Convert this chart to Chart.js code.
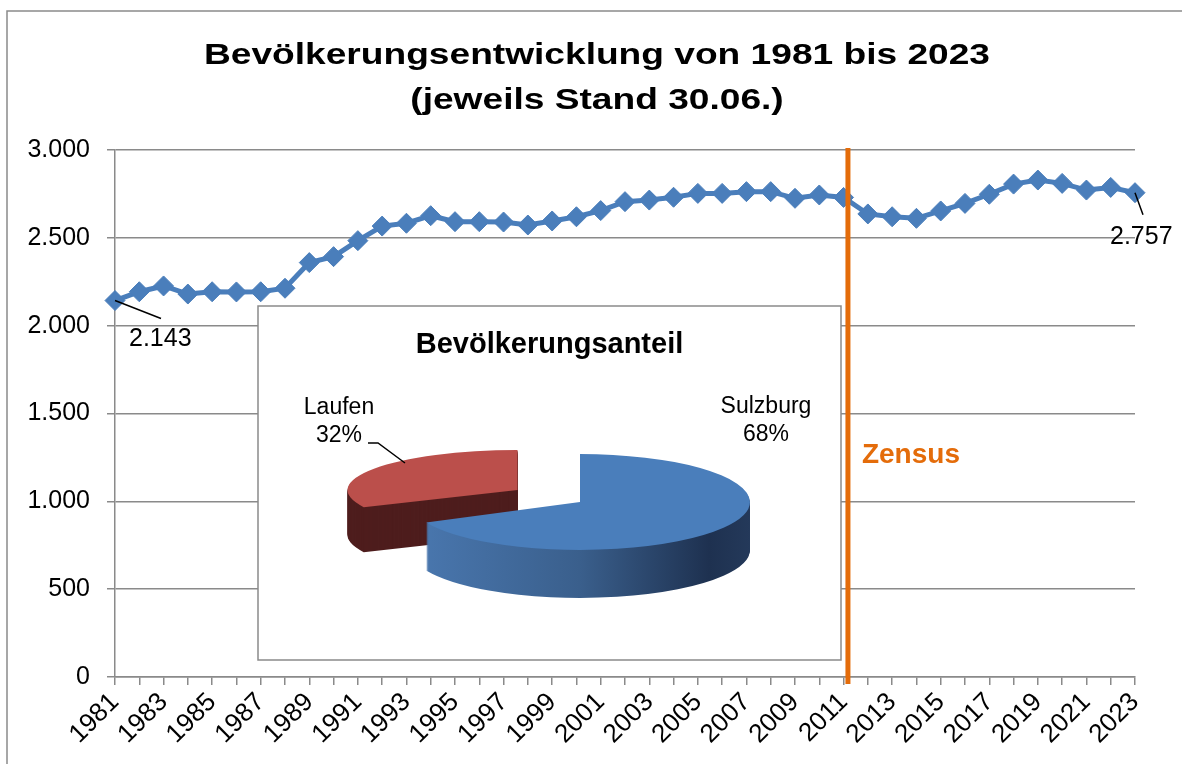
<!DOCTYPE html>
<html><head><meta charset="utf-8">
<script src="https://cdn.jsdelivr.net/npm/chart.js@4.4.1/dist/chart.umd.min.js"></script>
<style>
html,body{margin:0;padding:0;background:#fff;}
#wrap{position:relative;width:1182px;height:764px;overflow:hidden;}
#main{position:absolute;left:0;top:0;}
#pie{position:absolute;left:258px;top:306px;}
</style></head><body>
<div id="wrap"><canvas id="main" width="1182" height="764"></canvas><canvas id="pie" width="583" height="354"></canvas></div>
<script>
// ---- data ----
const years = [1981,1982,1983,1984,1985,1986,1987,1988,1989,1990,1991,1992,1993,1994,1995,1996,1997,1998,1999,2000,2001,2002,2003,2004,2005,2006,2007,2008,2009,2010,2011,2012,2013,2014,2015,2016,2017,2018,2019,2020,2021,2022,2023];
const population = [2143,2193,2226,2180,2193,2192,2193,2213,2359,2393,2484,2567,2583,2626,2592,2592,2590,2573,2596,2620,2655,2706,2715,2731,2753,2753,2763,2763,2725,2744,2730,2636,2620,2611,2653,2696,2748,2806,2829,2810,2772,2787,2757];
const yTickValues = [0,500,1000,1500,2000,2500,3000];
const shareLabels = ['Sulzburg','Laufen'];
const shareValues = [68,32];
const zensusYear = 2011.18;
const titleLines = ['Bevölkerungsentwicklung von 1981 bis 2023','(jeweils Stand 30.06.)'];
const pieTitle = 'Bevölkerungsanteil';
const zensusText = 'Zensus';

// ---- helpers ----
const FONT = 'Liberation Sans';
const fmt = v => String(Math.round(v)).replace(/\B(?=(\d{3})+(?!\d))/g, '.');
Chart.defaults.font.family = FONT;
Chart.defaults.color = '#000';

const framePlugin = {
  id: 'frame',
  beforeDraw(chart) {
    const ctx = chart.ctx;
    ctx.save();
    ctx.strokeStyle = '#8a8a8a';
    ctx.lineWidth = 1.5;
    ctx.strokeRect(7, 11, 1400, 1000);
    // title (stretched like the original)
    ctx.fillStyle = '#000';
    ctx.font = 'bold 29px "' + FONT + '"';
    ctx.textAlign = 'center';
    ctx.textBaseline = 'alphabetic';
    ctx.translate(597, 0);
    ctx.scale(1.28, 1);
    ctx.fillText(titleLines[0], 0, 64);
    ctx.fillText(titleLines[1], 0, 109);
    ctx.restore();
  },
  beforeDatasetsDraw(chart) {
    const ctx = chart.ctx;
    ctx.save();
    ctx.fillStyle = '#fff';
    ctx.fillRect(258, 306, 583, 354);
    ctx.strokeStyle = '#8a8a8a';
    ctx.lineWidth = 1.5;
    ctx.strokeRect(258, 306, 583, 354);
    ctx.restore();
  },
  afterDatasetsDraw(chart) {
    const ctx = chart.ctx;
    const xs = chart.scales.x, a = chart.chartArea;
    // Zensus line
    const zx = xs.getPixelForValue(zensusYear - years[0]);
    ctx.save();
    ctx.strokeStyle = '#E46C0A';
    ctx.lineWidth = 5;
    ctx.beginPath();
    ctx.moveTo(zx, a.top - 2);
    ctx.lineTo(zx, a.bottom + 7);
    ctx.stroke();
    ctx.fillStyle = '#E46C0A';
    ctx.font = 'bold 28px "' + FONT + '"';
    ctx.textAlign = 'left';
    ctx.textBaseline = 'middle';
    ctx.fillText(zensusText, zx + 14, 455);
    // data labels
    const pts = chart.getDatasetMeta(0).data;
    const p0 = pts[0], pn = pts[pts.length - 1];
    ctx.strokeStyle = '#000';
    ctx.lineWidth = 1.5;
    ctx.beginPath();
    ctx.moveTo(p0.x, p0.y); ctx.lineTo(p0.x + 46, p0.y + 18);
    ctx.moveTo(pn.x, pn.y); ctx.lineTo(pn.x + 8, pn.y + 22);
    ctx.stroke();
    ctx.fillStyle = '#000';
    ctx.font = '25px "' + FONT + '"';
    ctx.fillText(fmt(population[0]), p0.x + 14, p0.y + 39);
    ctx.fillText(fmt(population[population.length - 1]), pn.x - 25, pn.y + 44);
    ctx.restore();
  }
};

new Chart(document.getElementById('main'), {
  type: 'line',
  data: {
    labels: years.map(String),
    datasets: [{
      data: population,
      borderColor: '#4A7EBB',
      backgroundColor: '#4A7EBB',
      borderWidth: 5,
      pointStyle: 'rectRot',
      pointRadius: 10,
      pointBorderWidth: 1,
      pointBackgroundColor: '#4A7EBB',
      pointBorderColor: '#4A7EBB',
      tension: 0,
      clip: false
    }]
  },
  options: {
    responsive: false,
    animation: false,
    events: [],
    layout: { padding: { left: 0, top: 150, right: 47, bottom: 0 } },
    plugins: { legend: { display: false }, title: { display: false }, tooltip: { enabled: false } },
    scales: {
      x: {
        type: 'category',
        offset: false,
        grid: { drawOnChartArea: false, drawTicks: true, tickLength: 8, color: '#8a8a8a', lineWidth: 1.5 },
        border: { display: true, color: '#8a8a8a', width: 1.5 },
        ticks: {
          autoSkip: false, minRotation: 45, maxRotation: 45, padding: 2, color: '#000',
          font: { family: FONT, size: 26 },
          callback: (v, i) => (i % 2 === 0 ? String(years[i]) : '')
        },
        afterFit: s => { s.height = 87; }
      },
      y: {
        min: yTickValues[0], max: yTickValues[yTickValues.length - 1],
        afterBuildTicks: s => { s.ticks = yTickValues.map(v => ({ value: v })); },
        ticks: { padding: 17, color: '#000', font: { family: FONT, size: 25 }, callback: v => fmt(v) },
        grid: { color: '#8a8a8a', lineWidth: 1.5, tickLength: 8 },
        border: { color: '#8a8a8a', width: 1.5 },
        afterFit: s => { s.width = 115; }
      }
    }
  },
  plugins: [framePlugin]
});

// ---- 3D pie ----
const pieCenter = { x: 322, y: 196 };
const tilts = [48 / 170, 40 / 170];
const depths = [48, 45];
const explode = [0, 74];
const sideColors = [null, '#4E1D1D'];

function drawArcWith(arc, ctx, fill) {
  const proxy = Object.create(arc);
  proxy.options = Object.assign({}, arc.options, { backgroundColor: fill, borderWidth: 0, offset: 0 });
  proxy.draw(ctx);
}

const pie3d = {
  id: 'pie3d',
  beforeDatasetsDraw(chart) {
    const ctx = chart.ctx;
    const arcs = chart.getDatasetMeta(0).data;
    [1, 0].forEach(i => {
      const arc = arcs[i];
      const mid = (arc.startAngle + arc.endAngle) / 2;
      const ex = explode[i];
      const tilt = tilts[i];
      ctx.save();
      // explode offset (screen space), then flatten around the slice centre
      ctx.translate(pieCenter.x + Math.cos(mid) * ex, pieCenter.y + Math.sin(mid) * ex * 0.3);
      ctx.scale(1, tilt);
      ctx.translate(-arc.x, -arc.y);
      let side = sideColors[i];
      if (!side) {
        const R = arc.outerRadius;
        side = ctx.createLinearGradient(arc.x - R, 0, arc.x + R, 0);
        side.addColorStop(0, '#4A78B0');
        side.addColorStop(0.5, '#3A5F8C');
        side.addColorStop(0.88, '#1E3150');
        side.addColorStop(1, '#24395A');
      }
      for (let d = depths[i]; d >= 1; d -= 1) {
        ctx.save();
        ctx.translate(0, d / tilt);
        drawArcWith(arc, ctx, side);
        ctx.restore();
      }
      drawArcWith(arc, ctx, arc.options.backgroundColor);
      ctx.restore();
    });
    return false;
  },
  afterDraw(chart) {
    const ctx = chart.ctx;
    const total = shareValues.reduce((a, b) => a + b, 0);
    const pct = shareValues.map(v => Math.round(v / total * 100) + '%');
    ctx.save();
    ctx.fillStyle = '#000';
    ctx.font = '23px "' + FONT + '"';
    ctx.textAlign = 'center';
    ctx.textBaseline = 'middle';
    ctx.fillText(shareLabels[1], 81, 102);
    ctx.fillText(pct[1], 81, 130);
    ctx.fillText(shareLabels[0], 508, 101);
    ctx.fillText(pct[0], 508, 129);
    ctx.strokeStyle = '#000';
    ctx.lineWidth = 1.5;
    ctx.beginPath();
    ctx.moveTo(110, 137); ctx.lineTo(120, 137); ctx.lineTo(147, 157);
    ctx.stroke();
    ctx.restore();
  }
};

new Chart(document.getElementById('pie'), {
  type: 'pie',
  data: {
    labels: shareLabels,
    datasets: [{ data: shareValues, backgroundColor: ['#4A7EBB', '#BB4F4B'], borderWidth: 0, radius: 170 }]
  },
  options: {
    responsive: false,
    animation: false,
    events: [],
    plugins: {
      legend: { display: false },
      tooltip: { enabled: false },
      title: { display: true, text: pieTitle, color: '#000', font: { family: FONT, size: 29, weight: 'bold' }, padding: { top: 22, bottom: 0 } }
    }
  },
  plugins: [pie3d]
});
</script>
</body></html>
